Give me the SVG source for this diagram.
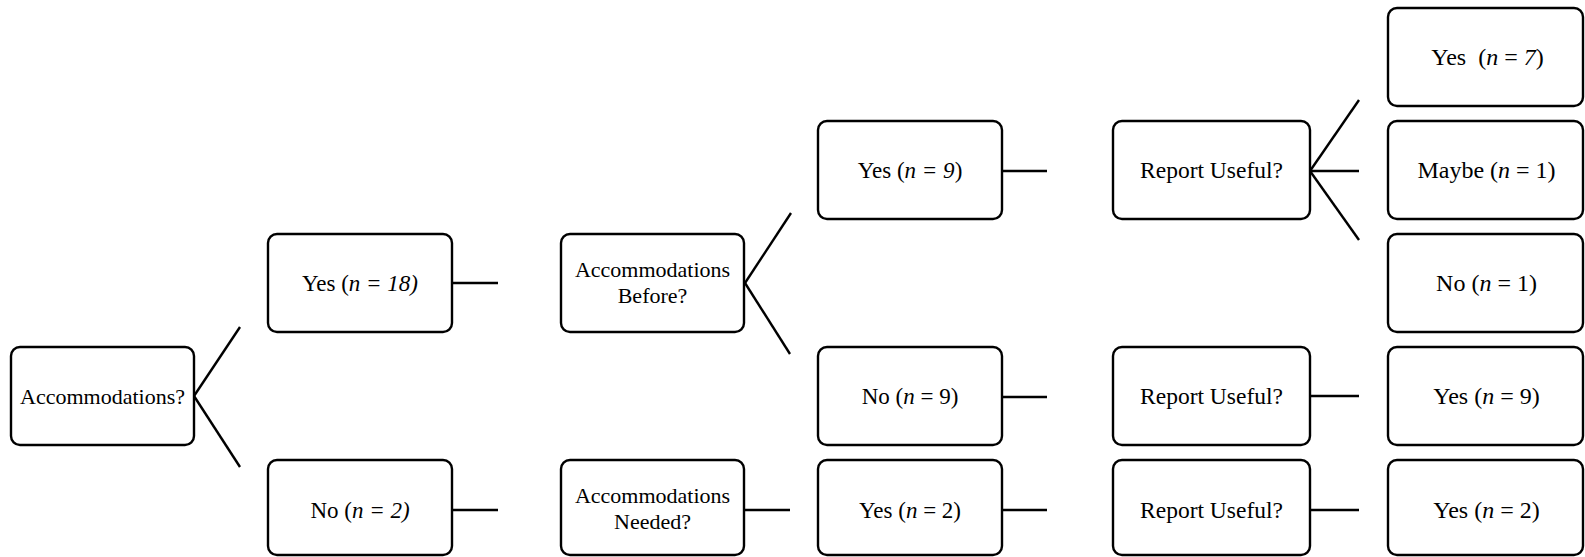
<svg xmlns="http://www.w3.org/2000/svg" width="1585" height="557" viewBox="0 0 1585 557">
<style>
.box{fill:#fff;stroke:#000;stroke-width:2.4}
.t{font-family:"Liberation Serif","Times New Roman",serif;font-size:23px;fill:#000;text-anchor:middle}
.a{font-size:22px}
.r{font-size:23.5px}
.z{font-size:24px}
.i{font-style:italic}
.c line{stroke:#000;stroke-width:2.4}
</style>
<rect width="1585" height="557" fill="#fff"/>
<g class="c" id="connectors">
<line x1="194" y1="396" x2="240" y2="327"/>
<line x1="194" y1="396" x2="240" y2="467"/>
<line x1="452" y1="283" x2="498" y2="283"/>
<line x1="452" y1="510" x2="498" y2="510"/>
<line x1="745" y1="283" x2="791" y2="213"/>
<line x1="745" y1="283" x2="790" y2="354"/>
<line x1="744" y1="510" x2="790" y2="510"/>
<line x1="1002" y1="171" x2="1047" y2="171"/>
<line x1="1002" y1="397" x2="1047" y2="397"/>
<line x1="1002" y1="510" x2="1047" y2="510"/>
<line x1="1310" y1="171" x2="1359" y2="100"/>
<line x1="1310" y1="171" x2="1359" y2="171"/>
<line x1="1310" y1="171" x2="1359" y2="240"/>
<line x1="1310" y1="396" x2="1359" y2="396"/>
<line x1="1310" y1="510" x2="1359" y2="510"/>
</g>
<g id="n-acc"><rect class="box" x="11" y="347" width="183" height="98" rx="9"/><text class="t a" x="102.5" y="404">Accommodations?</text></g>
<g id="n-yes18"><rect class="box" x="268" y="234" width="184" height="98" rx="9"/><text class="t" x="360" y="291">Yes (<tspan class="i">n = 18)</tspan></text></g>
<g id="n-no2"><rect class="box" x="268" y="460" width="184" height="95" rx="9"/><text class="t" x="360" y="518">No (<tspan class="i">n = 2)</tspan></text></g>
<g id="n-accbefore"><rect class="box" x="561" y="234" width="183" height="98" rx="9"/><text class="t a" x="652.5" y="277">Accommodations</text><text class="t a" x="652.5" y="303">Before?</text></g>
<g id="n-accneeded"><rect class="box" x="561" y="460" width="183" height="95" rx="9"/><text class="t a" x="652.5" y="503">Accommodations</text><text class="t a" x="652.5" y="529">Needed?</text></g>
<g id="n-yes9"><rect class="box" x="818" y="121" width="184" height="98" rx="9"/><text class="t" x="910" y="178">Yes (<tspan class="i">n = 9</tspan>)</text></g>
<g id="n-no9"><rect class="box" x="818" y="347" width="184" height="98" rx="9"/><text class="t" x="910" y="404">No (<tspan class="i">n</tspan> = 9)</text></g>
<g id="n-yes2"><rect class="box" x="818" y="460" width="184" height="95" rx="9"/><text class="t" x="910" y="518">Yes (<tspan class="i">n</tspan> = 2)</text></g>
<g id="n-ru1"><rect class="box" x="1113" y="121" width="197" height="98" rx="9"/><text class="t r" x="1211.5" y="178">Report Useful?</text></g>
<g id="n-ru2"><rect class="box" x="1113" y="347" width="197" height="98" rx="9"/><text class="t r" x="1211.5" y="404">Report Useful?</text></g>
<g id="n-ru3"><rect class="box" x="1113" y="460" width="197" height="95" rx="9"/><text class="t r" x="1211.5" y="518">Report Useful?</text></g>
<g id="n-yes7"><rect class="box" x="1388" y="8" width="195" height="98" rx="9"/><text class="t z" x="1487.5" y="65">Yes <tspan dx="6">(</tspan><tspan class="i">n</tspan> = <tspan class="i">7</tspan>)</text></g>
<g id="n-maybe1"><rect class="box" x="1388" y="121" width="195" height="98" rx="9"/><text class="t z" x="1486.5" y="178">Maybe (<tspan class="i">n</tspan> = 1)</text></g>
<g id="n-no1"><rect class="box" x="1388" y="234" width="195" height="98" rx="9"/><text class="t z" x="1486.5" y="291">No (<tspan class="i">n</tspan> = 1)</text></g>
<g id="n-yes9b"><rect class="box" x="1388" y="347" width="195" height="98" rx="9"/><text class="t z" x="1486.5" y="404">Yes (<tspan class="i">n</tspan> = 9)</text></g>
<g id="n-yes2b"><rect class="box" x="1388" y="460" width="195" height="95" rx="9"/><text class="t z" x="1486.5" y="518">Yes (<tspan class="i">n</tspan> = 2)</text></g>
</svg>
